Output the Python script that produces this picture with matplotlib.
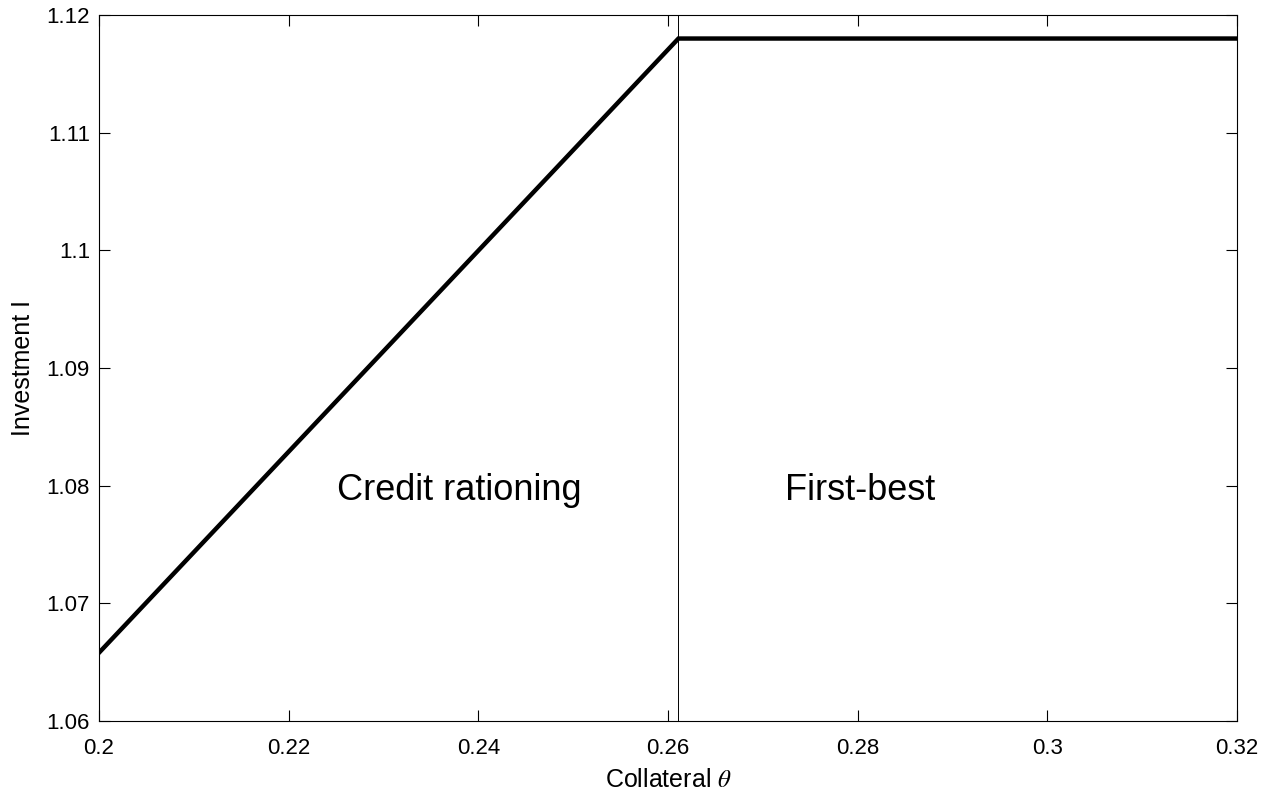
import matplotlib
matplotlib.use("Agg")
import matplotlib.pyplot as plt
from matplotlib.ticker import FuncFormatter

plt.rcParams["font.family"] = ["Liberation Sans", "DejaVu Sans"]
plt.rcParams["mathtext.fontset"] = "stix"

# investment curve: rises under credit rationing, flat at first-best
theta = [0.2, 0.2611, 0.32]
investment = [1.0658, 1.118, 1.118]
theta_star = 0.2611

x_ticks = [0.2, 0.22, 0.24, 0.26, 0.28, 0.3, 0.32]
y_ticks = [1.06, 1.07, 1.08, 1.09, 1.1, 1.11, 1.12]

fig = plt.figure(figsize=(12.73, 7.96), dpi=100)
ax = fig.add_axes([99 / 1273, 1 - 721 / 796, (1237 - 99) / 1273, (721 - 15) / 796])

ax.plot(theta, investment, color="black", linewidth=3.2, solid_joinstyle="miter")
ax.axvline(theta_star, color="black", linewidth=0.7)

ax.text(0.2251, 1.0788, "Credit rationing", fontsize=26, ha="left", va="baseline")
ax.text(0.2723, 1.0788, "First-best", fontsize=26, ha="left", va="baseline")

ax.set_xlim(0.2, 0.32)
ax.set_ylim(1.06, 1.12)
ax.set_xticks(x_ticks)
ax.set_yticks(y_ticks)
fmt = FuncFormatter(lambda v, pos: f"{v:g}")
ax.xaxis.set_major_formatter(fmt)
ax.yaxis.set_major_formatter(fmt)
ax.tick_params(direction="in", length=8, width=0.8, top=True, right=True,
               labelsize=16)
ax.tick_params(axis="x", pad=12)
ax.tick_params(axis="y", pad=6.5)
for s in ax.spines.values():
    s.set_linewidth(0.8)

ax.set_xlabel(r"Collateral $\theta$", fontsize=18, labelpad=7)
ax.set_ylabel("Investment I", fontsize=18, labelpad=8)

fig.savefig("out.png", dpi=100)
